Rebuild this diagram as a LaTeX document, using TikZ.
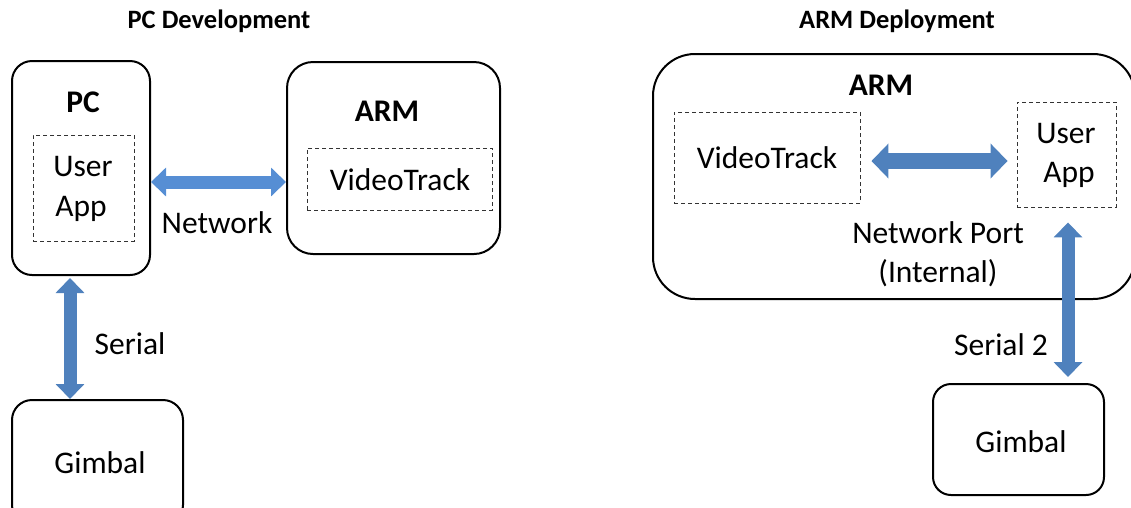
\documentclass[tikz,border=0pt]{standalone}
\usepackage{fontspec}
\setmainfont{Carlito}
\usetikzlibrary{arrows.meta}
\definecolor{arrblue}{RGB}{79,129,189}
\definecolor{netblue}{RGB}{86,142,212}
\tikzset{
  box/.style={draw=black, line width=2pt, inner sep=0pt},
  dbox/.style={draw=black!80, line width=0.9pt, dash pattern=on 4pt off 3pt, inner sep=0pt},
  txt/.style={inner sep=0pt, anchor=base, font=\fontsize{31.5}{38}\selectfont},
  btxt/.style={inner sep=0pt, anchor=base, font=\fontsize{31.5}{38}\selectfont\bfseries},
  ttl/.style={inner sep=0pt, anchor=base, font=\fontsize{26.5}{32}\selectfont\bfseries},
  fat/.style={line width=13pt, {Triangle[width=28pt,length=15pt]}-{Triangle[width=28pt,length=15pt]}},
}
\begin{document}
\begin{tikzpicture}[x=1pt,y=-1pt]
\clip (0,0) rectangle (1131,507);
% titles
\node[ttl] (t1) at (219,28) {PC Development};
\node[ttl] (t2) at (897,28) {ARM Deployment};
% left: PC
\node[box, rounded corners=20pt, minimum width=138pt, minimum height=214pt] (pc) at (81,168) {};
\node[btxt] (pcl) at (83,112) {PC};
\node[dbox, minimum width=101pt, minimum height=106pt] (uapp1) at (83.5,188) {};
\node[txt] (u1) at (83,176) {User};
\node[txt] (a1) at (81,216) {App};
% left: ARM
\node[box, rounded corners=26pt, minimum width=213pt, minimum height=192pt] (arm1) at (393.5,158) {};
\node[btxt] (arml) at (387,121) {ARM};
\node[dbox, minimum width=185pt, minimum height=62pt] (vt1) at (399.5,179) {};
\node[txt] (vtl) at (400,190) {VideoTrack};
% left: Gimbal
\node[box, rounded corners=20pt, minimum width=171pt, minimum height=125pt] (g1) at (97.5,462.5) {};
\node[txt] (g1l) at (100,473) {Gimbal};
% left arrows
\draw[fat, netblue] (pc.east |- 0,182) -- (arm1.west |- 0,182);
\node[txt] (netl) at (217,233) {Network};
\draw[fat, arrblue, shorten <=2pt] (pc.south -| 70,0) -- (g1.north -| 70,0);
\node[txt] (serl) at (130,354) {Serial};
% right: ARM big box
\node[box, rounded corners=42pt, minimum width=482pt, minimum height=245pt] (arm2) at (894,176.5) {};
\node[btxt] (arm2l) at (881,95) {ARM};
\node[dbox, minimum width=186pt, minimum height=91pt] (vt2) at (767,157.5) {};
\node[txt] (vt2l) at (767,168) {VideoTrack};
\node[dbox, minimum width=99pt, minimum height=105pt] (uapp2) at (1066.5,154.5) {};
\node[txt] (u2) at (1066,143) {User};
\node[txt] (a2) at (1069,182) {App};
\draw[arrblue, line width=16pt, {Triangle[width=34pt,length=17pt]}-{Triangle[width=34pt,length=17pt]}, shorten <=11pt, shorten >=9pt] (vt2.east |- 0,161) -- (uapp2.west |- 0,161);
\node[txt] (np) at (938,243) {Network Port};
\node[txt] (npi) at (938,282) {(Internal)};
% right: Gimbal
\node[box, rounded corners=18pt, minimum width=171pt, minimum height=111pt] (g2) at (1018.5,439.5) {};
\node[txt] (g2l) at (1021,452) {Gimbal};
\draw[fat, arrblue, shorten <=15pt, shorten >=6pt] (uapp2.south -| 1068,0) -- (g2.north -| 1068,0);
\node[txt] (ser2) at (1001,355) {Serial 2};
\end{tikzpicture}
\end{document}
